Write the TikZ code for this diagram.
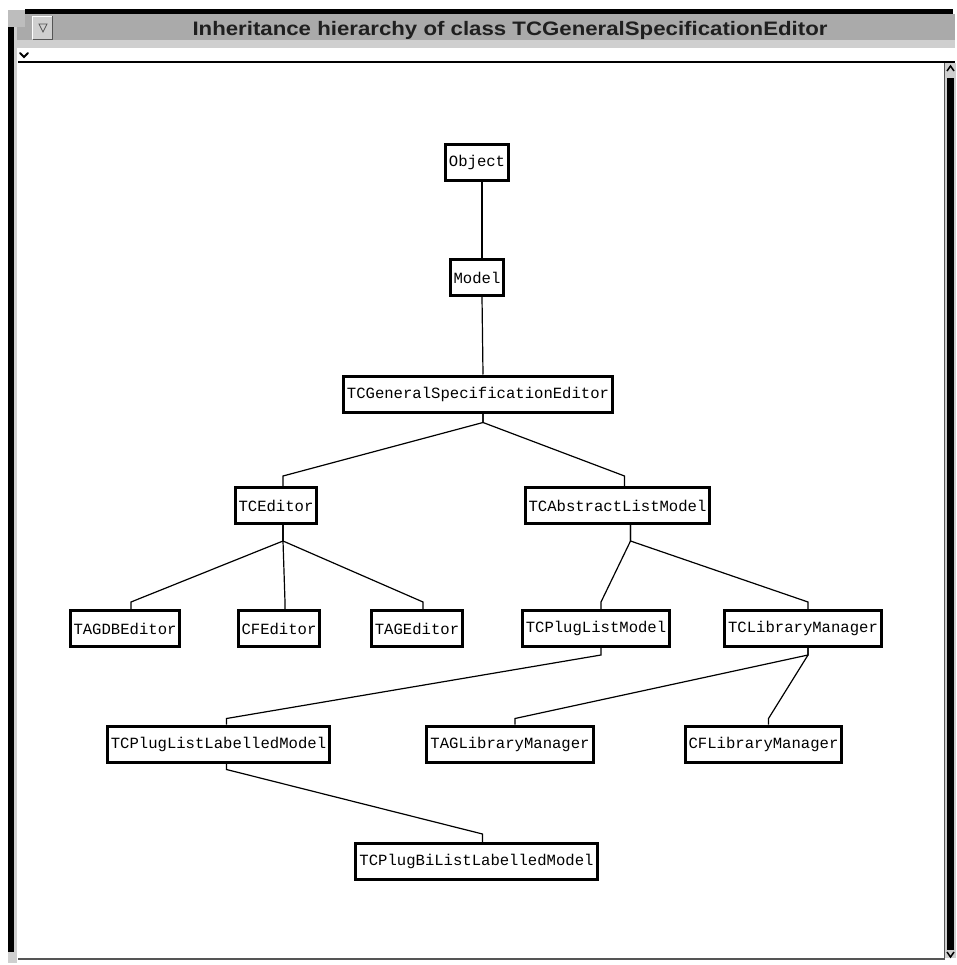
\documentclass[tikz,border=0pt]{standalone}
\usepackage{fontspec}
\newfontfamily\clsfont{Liberation Mono}
\newfontfamily\titlefont{Liberation Sans}
\definecolor{titlegrey}{HTML}{AAAAAA}
\definecolor{stripgrey}{HTML}{CFCFCF}
\definecolor{cornergrey}{HTML}{BDBDBD}
\definecolor{edgegrey}{HTML}{555555}
\begin{document}
\begin{tikzpicture}[x=1pt,y=-1pt,
  cls/.style={draw=black, line width=3pt, fill=white, inner xsep=3.5pt, inner ysep=0pt,
    minimum height=36pt, font=\clsfont\fontsize{15.6}{16}\selectfont},
  link/.style={line width=1.2pt, black},
  ]
\useasboundingbox (0,0) rectangle (956,965);

% window frame: title bar, borders, menu line
\fill[titlegrey] (17,14) rectangle (955,40);
\fill[stripgrey] (17,40) rectangle (955,48);
\fill[black] (25,9) rectangle (953,14);
\fill[cornergrey] (8,10) rectangle (25,27);
\fill[black] (8,27) rectangle (14,952);
\fill[stripgrey] (14,27) rectangle (17,952);
\fill[black] (18,61) rectangle (955,63);
\draw[line width=2pt, line cap=round] (20,53) -- (24,57) -- (28,53);

% window menu button
\fill[stripgrey] (32,16) rectangle (53,40);
\draw[white, line width=1pt] (32.5,39.5) -- (32.5,16.5) -- (52.5,16.5);
\draw[edgegrey, line width=1pt] (32.5,39.5) -- (52.5,39.5) -- (52.5,16.5);
\draw[edgegrey, line width=0.8pt] (39,24) -- (47,24) -- (43,32) -- cycle;

% title
\node[font=\titlefont\bfseries\fontsize{19.5}{20}\selectfont, text=black!88, inner sep=0pt]
  (title) at (510,30) {\scalebox{1.14}[1]{Inheritance hierarchy of class TCGeneralSpecificationEditor}};

% scrollbar
\fill[stripgrey] (944,63) rectangle (956,958);
\draw[edgegrey, line width=1.5pt] (944.5,63) -- (944.5,958);
\fill[black] (947,78) rectangle (954,950);
\draw[line width=1.5pt] (947,71) -- (950.5,66) -- (954,71);
\draw[line width=1.5pt] (947,952) -- (950.5,957) -- (954,952);

% bottom edge
\fill[edgegrey] (18,958) rectangle (945,960);
\fill[stripgrey] (8,952) rectangle (17,963);

% class boxes
\node[cls] (obj) at (477,162.5) {Object};
\node[cls] (mdl) at (477,277.5) {Model};
\node[cls] (gse) at (478,394) {TCGeneralSpecificationEditor};
\node[cls] (ed)  at (276,505.5) {TCEditor};
\node[cls] (alm) at (617.5,505.5) {TCAbstractListModel};
\node[cls] (tagdb) at (125,628.5) {TAGDBEditor};
\node[cls] (cfe) at (279,628.5) {CFEditor};
\node[cls] (tage) at (417,628.5) {TAGEditor};
\node[cls] (plm) at (596,628.5) {TCPlugListModel};
\node[cls] (lib) at (803,628.5) {TCLibraryManager};
\node[cls] (pllm) at (218.5,744) {TCPlugListLabelledModel};
\node[cls] (taglib) at (510,744) {TAGLibraryManager};
\node[cls] (cflib) at (763.5,744) {CFLibraryManager};
\node[cls] (pbllm) at (476.5,861.5) {TCPlugBiListLabelledModel};

% inheritance links
\draw[link] ([xshift=5pt]obj.south) -- ([xshift=5pt]mdl.north);
\draw[link] ([xshift=5pt]mdl.south) -- ([xshift=5pt]gse.north);
\foreach \c in {ed,alm}
  \draw[link] ([xshift=5pt]gse.south) -- ++(0,9) -- ([xshift=7pt,yshift=10pt]\c.north) -- ([xshift=7pt]\c.north);
\foreach \c in {tagdb,cfe,tage}
  \draw[link] ([xshift=7pt]ed.south) -- ++(0,16) -- ([xshift=6pt,yshift=7pt]\c.north) -- ([xshift=6pt]\c.north);
\foreach \c in {plm,lib}
  \draw[link] ([xshift=13pt]alm.south) -- ++(0,16) -- ([xshift=5pt,yshift=7pt]\c.north) -- ([xshift=5pt]\c.north);
\draw[link] ([xshift=5pt]plm.south) -- ++(0,7) -- ([xshift=8pt,yshift=6pt]pllm.north) -- ([xshift=8pt]pllm.north);
\foreach \c in {taglib,cflib}
  \draw[link] ([xshift=5pt]lib.south) -- ++(0,7) -- ([xshift=5pt,yshift=6pt]\c.north) -- ([xshift=5pt]\c.north);
\draw[link] ([xshift=8pt]pllm.south) -- ++(0,6) -- ([xshift=6pt,yshift=8pt]pbllm.north) -- ([xshift=6pt]pbllm.north);
\end{tikzpicture}
\end{document}
